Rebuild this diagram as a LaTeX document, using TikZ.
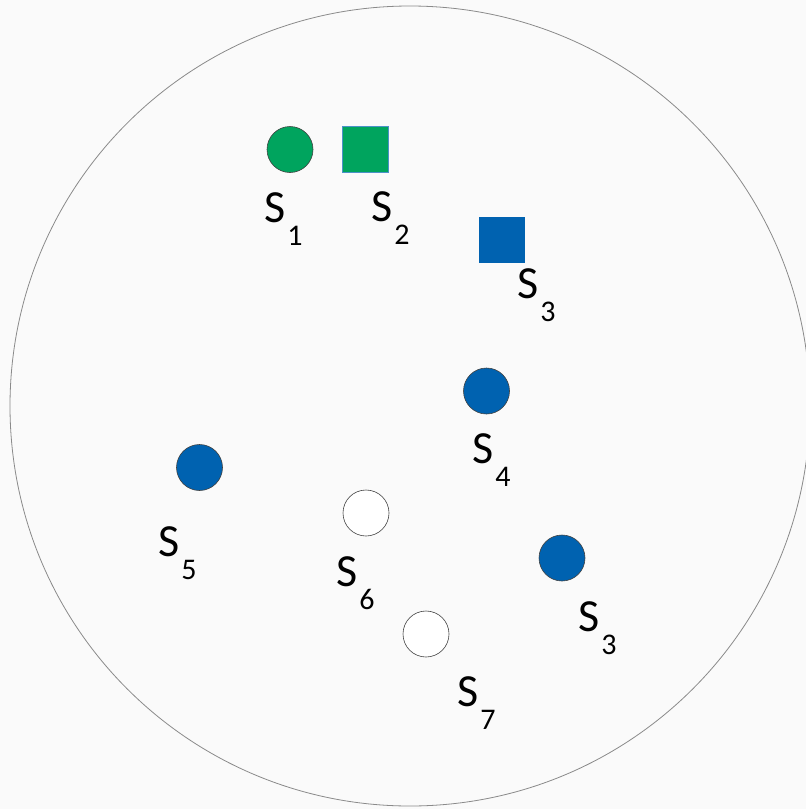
\documentclass[tikz,border=0pt]{standalone}
\usepackage{fontspec}
\setmainfont{Carlito}
\usepackage{xcolor}
\usepackage{tikz}
\definecolor{setgreen}{HTML}{00A45E}
\definecolor{setblue}{HTML}{0062B0}
\definecolor{rimgray}{HTML}{8A8A8A}
\definecolor{edgegray}{HTML}{404040}
\definecolor{paper}{HTML}{FAFAFA}

\tikzset{
  dot/.style={circle, draw=edgegray, line width=0.6pt, minimum size=46pt, inner sep=0pt},
  block/.style={rectangle, minimum size=46pt, inner sep=0pt, line width=0.6pt},
  tag/.style={anchor=base west, inner sep=0pt}
}
\newcommand{\slabel}[1]{{\fontsize{46}{50}\selectfont S}\kern2pt\raisebox{-23pt}{\fontsize{30}{34}\selectfont #1}}

\begin{document}
\begin{tikzpicture}[x=1pt, y=-1pt]
\useasboundingbox (0,0) rectangle (806,809);
\fill[paper] (0,0) rectangle (806,809);
\begin{scope}
\clip (0,0) rectangle (806,809);
\draw[rimgray, line width=0.8pt] (410,406) circle (400);
\end{scope}

% shapes
\node[dot, fill=setgreen] (s1) at (290,149.5) {};
\node[block, fill=setgreen, draw=setblue!70] (s2) at (365.5,149.5) {};
\node[block, fill=setblue] (s3) at (501.5,240) {};
\node[dot, fill=setblue] (s4) at (486.5,391) {};
\node[dot, fill=setblue] (s5) at (199.5,467.5) {};
\node[dot, fill=white] (s6) at (366,513) {};
\node[dot, fill=setblue] (s3b) at (562,558) {};
\node[dot, fill=white] (s7) at (426,634) {};

% labels
\node[tag] (l1) at (264,222) {\slabel{1}};
\node[tag] (l2) at (371,221) {\slabel{2}};
\node[tag] (l3) at (517,298) {\slabel{3}};
\node[tag] (l4) at (472,463) {\slabel{4}};
\node[tag] (l5) at (158,556) {\slabel{5}};
\node[tag] (l6) at (336,586) {\slabel{6}};
\node[tag] (l3b) at (578,631) {\slabel{3}};
\node[tag] (l7) at (457,706) {\slabel{7}};
\end{tikzpicture}
\end{document}
